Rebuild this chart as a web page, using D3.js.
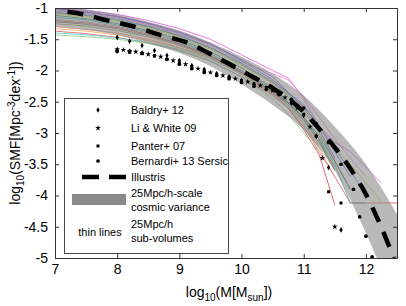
<!DOCTYPE html>
<html>
<head>
<meta charset="utf-8">
<script src="https://cdn.jsdelivr.net/npm/d3@7"></script>
<style>
  body { margin: 0; background: #fff; }
  text { font-family: "Liberation Sans", Arial, sans-serif; }
</style>
</head>
<body>
<script>
// chart data
const xTicks = [7, 8, 9, 10, 11, 12];
const yTicks = [-1, -1.5, -2, -2.5, -3, -3.5, -4, -4.5, -5];

const illustrisX = [7.2, 7.45, 7.76, 8.2, 8.69, 9.14, 9.6, 10.05, 10.5, 10.9, 11.35, 11.77, 12.0, 12.2, 12.45];
const illustrisY = [-1.06, -1.10, -1.18, -1.28, -1.43, -1.56, -1.79, -2.03, -2.28, -2.57, -3.05, -3.6, -3.98, -4.4, -5.0];

const bandX = [7.0, 7.5, 8.0, 8.5, 9.0, 9.5, 10.0, 10.5, 11.0, 11.5, 12.0, 12.5];
const bandUp = [-0.97, -1.02, -1.10, -1.22, -1.36, -1.55, -1.78, -2.05, -2.4, -2.9, -3.5, -4.3];
const bandLo = [-1.30, -1.35, -1.43, -1.56, -1.72, -1.93, -2.22, -2.55, -2.95, -3.6, -4.6, -5.8];

const baldryX = [8.0, 8.2, 8.4, 8.6, 8.8, 9.0, 9.2, 9.4, 9.6, 9.8, 10.0, 10.2, 10.4, 10.6, 10.8, 11.0, 11.2, 11.4, 11.6];
const baldryY = [-1.47, -1.53, -1.60, -1.68, -1.76, -1.84, -1.92, -1.98, -2.05, -2.10, -2.16, -2.22, -2.29, -2.38, -2.52, -2.72, -3.05, -3.55, -4.55];

const liX = [8.0, 8.1, 8.2, 8.3, 8.4, 8.5, 8.7, 8.9, 9.1, 9.3, 9.5, 9.7, 9.9, 10.1, 10.3, 10.5, 10.7, 10.9, 11.1, 11.3, 11.5];
const liY = [-1.66, -1.67, -1.69, -1.70, -1.72, -1.74, -1.78, -1.84, -1.90, -1.97, -2.03, -2.08, -2.13, -2.18, -2.24, -2.32, -2.43, -2.6, -2.9, -3.4, -4.5];

const panterX = [8.0, 8.2, 8.4, 8.6, 8.8, 9.0, 9.2, 9.4, 9.6, 9.8, 10.0, 10.2, 10.4, 10.6, 10.8, 11.0, 11.2, 11.4, 11.6];
const panterY = [-1.70, -1.71, -1.73, -1.77, -1.82, -1.88, -1.94, -2.0, -2.06, -2.11, -2.16, -2.21, -2.27, -2.35, -2.48, -2.7, -3.05, -3.94, -4.12];

const bernX = [8.0, 8.2, 8.4, 8.6, 8.8, 9.0, 9.2, 9.4, 9.6, 9.8, 10.0, 10.2, 10.4, 10.6, 10.8, 11.0, 11.2, 11.4, 11.6, 11.8, 11.9, 12.0, 12.1];
const bernY = [-1.68, -1.69, -1.72, -1.76, -1.82, -1.9, -1.97, -2.03, -2.08, -2.13, -2.19, -2.25, -2.3, -2.38, -2.46, -2.6, -2.85, -3.15, -3.5, -3.9, -4.34, -4.65, -4.98];

// thin lines: 25Mpc/h sub-volumes
const subX = [7, 7.5, 8, 8.5, 9, 9.5, 10, 10.5, 10.75, 11, 11.25, 11.5, 11.75, 12, 12.25, 12.5];
const subColors = ["#e052e0", "#6060ff", "#9040b0", "#40b040", "#208040", "#f0a050", "#e05050", "#d04040", "#50d0d0",
                   "#80d080", "#d8d040", "#a0a0a0", "#f080c0", "#40a0a0", "#909040", "#606060", "#4080e0", "#f09080"];
const subY = [
  [-1.0, -1.04, -1.1, -1.2, -1.33, -1.5, -1.75, -2.0, -2.12, -2.45, -2.9, -3.15, -3.3, -3.55, -3.8],
  [-1.03, -1.07, -1.14, -1.25, -1.4, -1.58, -1.82, -2.1, -2.35, -2.55, -2.9, -3.3, -3.7],
  [-1.01, -1.06, -1.13, -1.24, -1.38, -1.57, -1.84, -2.15, -2.35, -2.6, -2.95, -3.4],
  [-1.08, -1.12, -1.2, -1.3, -1.45, -1.64, -1.9, -2.2, -2.4, -2.65, -3.0, -3.45, -3.9],
  [-1.12, -1.17, -1.25, -1.36, -1.5, -1.7, -1.96, -2.28, -2.5, -2.75, -3.1, -3.6],
  [-1.33, -1.37, -1.43, -1.52, -1.64, -1.8, -2.05, -2.35, -2.55, -2.85, -3.2],
  [-1.37, -1.41, -1.47, -1.56, -1.68, -1.85, -2.1, -2.4, -2.6, -2.9, -3.3, -3.7, -4.12, -4.12, -4.12, -4.12],
  [-1.2, -1.24, -1.31, -1.42, -1.57, -1.76, -2.02, -2.35, -2.6, -2.95, -3.35, -4.15],
  [-1.4, -1.43, -1.48, -1.55, -1.66, -1.82, -2.06, -2.38, -2.58, -2.85, -3.25],
  [-1.43, -1.46, -1.5, -1.57, -1.68, -1.85, -2.1, -2.45, -2.7, -3.0, -3.3],
  [-1.1, -1.14, -1.21, -1.32, -1.47, -1.66, -1.92, -2.2, -2.38, -2.6, -2.9, -3.25, -3.5, -3.8, -4.1],
  [-1.18, -1.22, -1.29, -1.4, -1.55, -1.74, -2.0, -2.32, -2.55, -2.8, -3.15, -3.55],
  [-1.05, -1.09, -1.16, -1.27, -1.42, -1.6, -1.86, -2.05, -2.15, -2.42, -2.75, -3.1, -3.4, -3.7],
  [-1.15, -1.19, -1.27, -1.38, -1.53, -1.73, -2.0, -2.3, -2.52, -2.78, -3.1, -3.5, -4.12, -4.12],
  [-1.25, -1.29, -1.36, -1.46, -1.6, -1.79, -2.04, -2.34, -2.55, -2.8, -3.15, -3.6],
  [-1.22, -1.26, -1.33, -1.44, -1.58, -1.77, -2.03, -2.33, -2.52, -2.75, -3.05, -3.45, -3.9],
  [-1.07, -1.11, -1.18, -1.29, -1.44, -1.63, -1.88, -2.18, -2.36, -2.58, -2.88, -3.25, -3.6, -4.0],
  [-1.3, -1.34, -1.4, -1.5, -1.63, -1.8, -2.05, -2.38, -2.6, -2.9, -3.25, -3.7]
];

const width = 406, height = 306;
const margin = {top: 8, right: 9, bottom: 48, left: 55};

let svg = d3.select("body").append("svg")
    .attr("width", width)
    .attr("height", height);

let xScale = d3.scaleLinear().domain([7, 12.5]).range([margin.left, width - margin.right]);
let yScale = d3.scaleLinear().domain([-5, -1]).range([height - margin.bottom, margin.top]);

svg.append("clipPath").attr("id", "plotclip")
  .append("rect")
    .attr("x", margin.left).attr("y", margin.top)
    .attr("width", xScale(12.5) - xScale(7))
    .attr("height", yScale(-5) - yScale(-1));

let plot = svg.append("g").attr("clip-path", "url(#plotclip)");

// sub-volume thin lines
let line = d3.line().x(d => xScale(d[0])).y(d => yScale(d[1]));
subY.forEach((ys, i) => {
  let pts = ys.map((v, j) => [subX[j], v]);
  plot.append("path")
    .attr("d", line(pts))
    .attr("fill", "none")
    .attr("stroke", subColors[i])
    .attr("stroke-width", 0.9)
    .attr("opacity", 0.85);
});

// cosmic variance band
let area = d3.area()
  .curve(d3.curveMonotoneX)
  .x(d => xScale(d[0]))
  .y0(d => yScale(d[1]))
  .y1(d => yScale(d[2]));
plot.append("path")
  .attr("d", area(bandX.map((x, i) => [x, bandLo[i], bandUp[i]])))
  .attr("fill", "#808080")
  .attr("opacity", 0.55);

// Illustris
plot.append("path")
  .attr("d", line.curve(d3.curveMonotoneX)(illustrisX.map((x, i) => [x, illustrisY[i]])))
  .attr("fill", "none")
  .attr("stroke", "#000")
  .attr("stroke-width", 4.5)
  .attr("stroke-dasharray", "16,11");

// observations
function drawPoints(xs, ys, type, size) {
  plot.selectAll(null)
    .data(xs.map((x, i) => [x, ys[i]]))
    .enter()
    .append("path")
      .attr("d", d3.symbol().type(type).size(size))
      .attr("transform", d => `translate(${xScale(d[0])},${yScale(d[1])})`)
      .attr("fill", "#000");
}
drawPoints(baldryX, baldryY, d3.symbolDiamond, 9);
drawPoints(liX, liY, d3.symbolStar, 10);
drawPoints(panterX, panterY, d3.symbolSquare, 9);
drawPoints(bernX, bernY, d3.symbolCircle, 11);

// axes, MATLAB style box with inward ticks
let fmt = d => String(d);
let axBottom = svg.append("g")
  .attr("transform", `translate(0,${yScale(-5)})`)
  .call(d3.axisBottom(xScale).tickValues(xTicks).tickSize(-4).tickPadding(6).tickFormat(fmt));
let axLeft = svg.append("g")
  .attr("transform", `translate(${xScale(7)},0)`)
  .call(d3.axisLeft(yScale).tickValues(yTicks).tickSize(-4).tickPadding(7).tickFormat(fmt));
let axTop = svg.append("g")
  .attr("transform", `translate(0,${yScale(-1)})`)
  .call(d3.axisTop(xScale).tickValues(xTicks).tickSize(-4).tickFormat(""));
let axRight = svg.append("g")
  .attr("transform", `translate(${xScale(12.5)},0)`)
  .call(d3.axisRight(yScale).tickValues(yTicks).tickSize(-4).tickFormat(""));

[axBottom, axLeft, axTop, axRight].forEach(g => {
  g.select(".domain").attr("stroke", "#333");
  g.selectAll(".tick line").attr("stroke", "#333");
  g.selectAll(".tick text").attr("font-size", "14px").attr("fill", "#000")
    .attr("font-family", "Liberation Sans, Arial, sans-serif");
});

// axis titles
let xt = svg.append("text")
  .attr("x", 229).attr("y", 297)
  .attr("text-anchor", "middle")
  .attr("font-size", "14px");
xt.append("tspan").text("log");
xt.append("tspan").attr("font-size", "10px").attr("dy", 4).text("10");
xt.append("tspan").attr("dy", -4).text("(M[M");
xt.append("tspan").attr("font-size", "10px").attr("dy", 4).text("sun");
xt.append("tspan").attr("dy", -4).text("])");

let yt = svg.append("text")
  .attr("transform", `translate(20,${(yScale(-1) + yScale(-5)) / 2}) rotate(-90)`)
  .attr("text-anchor", "middle")
  .attr("font-size", "14px");
yt.append("tspan").text("log");
yt.append("tspan").attr("font-size", "10px").attr("dy", 4).text("10");
yt.append("tspan").attr("dy", -4).text("(SMF[Mpc");
yt.append("tspan").attr("font-size", "10px").attr("dy", -5).text("-3");
yt.append("tspan").attr("dy", 5).text("dex");
yt.append("tspan").attr("font-size", "10px").attr("dy", -5).text("-1");
yt.append("tspan").attr("dy", 5).text("])");

// legend
let leg = svg.append("g");
leg.append("rect")
  .attr("x", 64.5).attr("y", 98.5).attr("width", 164).attr("height", 155)
  .attr("fill", "#fff").attr("stroke", "#444").attr("stroke-width", 1);

let legSyms = [
  {label: "Baldry+ 12", type: d3.symbolDiamond, size: 9, y: 110},
  {label: "Li & White 09", type: d3.symbolStar, size: 10, y: 128},
  {label: "Panter+ 07", type: d3.symbolSquare, size: 9, y: 146},
  {label: "Bernardi+ 13 Sersic", type: d3.symbolCircle, size: 11, y: 161}
];
legSyms.forEach(s => {
  leg.append("path")
    .attr("d", d3.symbol().type(s.type).size(s.size))
    .attr("transform", `translate(98,${s.y})`)
    .attr("fill", "#000");
  leg.append("text").attr("x", 131).attr("y", s.y + 4)
    .attr("font-size", "11px").text(s.label);
});

leg.append("line")
  .attr("x1", 82).attr("x2", 126).attr("y1", 177).attr("y2", 177)
  .attr("stroke", "#000").attr("stroke-width", 4.5)
  .attr("stroke-dasharray", "17,10");
leg.append("text").attr("x", 131).attr("y", 181).attr("font-size", "11px").text("Illustris");

leg.append("rect")
  .attr("x", 72).attr("y", 194).attr("width", 54).attr("height", 11)
  .attr("fill", "#8a8a8a");
leg.append("text").attr("x", 131).attr("y", 197).attr("font-size", "11px").text("25Mpc/h-scale");
leg.append("text").attr("x", 131).attr("y", 211).attr("font-size", "11px").text("cosmic variance");

leg.append("text").attr("x", 100).attr("y", 236).attr("text-anchor", "middle")
  .attr("font-size", "11px").text("thin lines");
leg.append("text").attr("x", 131).attr("y", 228).attr("font-size", "11px").text("25Mpc/h");
leg.append("text").attr("x", 131).attr("y", 242).attr("font-size", "11px").text("sub-volumes");
</script>
</body>
</html>
